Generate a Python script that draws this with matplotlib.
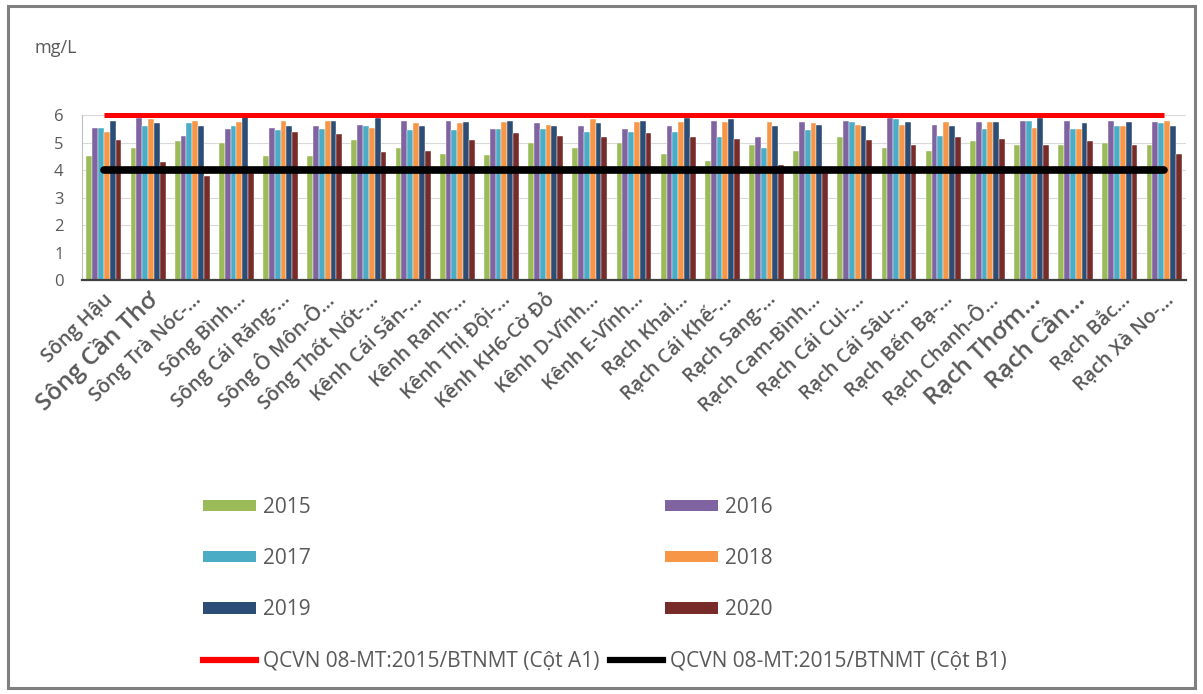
import matplotlib
matplotlib.use("Agg")
import matplotlib.pyplot as plt
import numpy as np
from matplotlib.patches import Patch, Rectangle
from matplotlib.lines import Line2D

plt.rcParams['font.family'] = ['Open Sans', 'DejaVu Sans']

stations = [
    "Sông Hậu", "Sông Cần Thơ", "Sông Trà Nóc-…", "Sông Bình…", "Sông Cái Răng-…",
    "Sông Ô Môn-Ô…", "Sông Thốt Nốt-…", "Kênh Cái Sắn-…", "Kênh Ranh-…", "Kênh Thị Đội-…",
    "Kênh KH6-Cờ Đỏ", "Kênh D-Vĩnh…", "Kênh E-Vĩnh…", "Rạch Khai…", "Rạch Cái Khế-…",
    "Rạch Sang-…", "Rạch Cam-Bình…", "Rạch Cái Cui-…", "Rạch Cái Sâu-…", "Rạch Bến Bạ-…",
    "Rạch Chanh-Ô…", "Rạch Thơm…", "Rạch Cần…", "Rạch Bắc…", "Rạch Xà No-…",
]
# labels shown in a larger font
large_labels = {"Sông Cần Thơ", "Rạch Thơm…", "Rạch Cần…"}

years = ["2015", "2016", "2017", "2018", "2019", "2020"]

do_2015 = [4.5, 4.8, 5.05, 5.0, 4.5, 4.5, 5.1, 4.8, 4.6, 4.55, 5.0, 4.8, 5.0,
           4.6, 4.35, 4.9, 4.7, 5.2, 4.8, 4.7, 5.05, 4.9, 4.9, 5.0, 4.9]
do_2016 = [5.55, 5.9, 5.25, 5.5, 5.55, 5.6, 5.65, 5.8, 5.8, 5.5, 5.7, 5.6, 5.5,
           5.6, 5.8, 5.2, 5.75, 5.8, 5.9, 5.65, 5.75, 5.8, 5.8, 5.8, 5.75]
do_2017 = [5.55, 5.6, 5.7, 5.6, 5.45, 5.5, 5.6, 5.45, 5.45, 5.5, 5.5, 5.4, 5.4,
           5.4, 5.2, 4.8, 5.45, 5.75, 5.85, 5.25, 5.5, 5.8, 5.5, 5.6, 5.7]
do_2018 = [5.4, 5.85, 5.8, 5.75, 5.8, 5.8, 5.55, 5.7, 5.7, 5.75, 5.65, 5.85, 5.75,
           5.75, 5.75, 5.75, 5.7, 5.65, 5.65, 5.75, 5.75, 5.55, 5.5, 5.6, 5.8]
do_2019 = [5.8, 5.7, 5.6, 5.95, 5.6, 5.8, 5.9, 5.6, 5.75, 5.8, 5.6, 5.7, 5.8,
           5.9, 5.85, 5.6, 5.65, 5.6, 5.75, 5.6, 5.75, 5.9, 5.7, 5.75, 5.6]
do_2020 = [5.1, 4.3, 3.8, 3.9, 5.4, 5.3, 4.65, 4.7, 5.1, 5.35, 5.25, 5.2, 5.35,
           5.2, 5.15, 4.2, 3.9, 5.1, 4.9, 5.2, 5.15, 4.9, 5.05, 4.9, 4.6]

limit_a1 = 6.0   # QCVN 08-MT:2015/BTNMT column A1
limit_b1 = 4.0   # QCVN 08-MT:2015/BTNMT column B1

series = [do_2015, do_2016, do_2017, do_2018, do_2019, do_2020]
colors = ["#9BBB59", "#8064A2", "#4BACC6", "#F79646", "#2C4D75", "#772C2A"]
text_color = "#595959"

fig = plt.figure(figsize=(12.03, 6.94), dpi=100)
ax = fig.add_axes([0.068, 0.5965, 0.918, 0.2375])

n = len(stations)
x = np.arange(n)
group = 0.79
bw = group / len(series)
for i, (vals, col) in enumerate(zip(series, colors)):
    ax.bar(x - group / 2 + bw * (i + 0.5), vals, width=bw, color=col,
           edgecolor="white", linewidth=0.3, zorder=2)

ax.plot(x, [limit_a1] * n, color="#FF0000", lw=3.6, zorder=3,
        solid_capstyle="butt", clip_on=False)
ax.plot(x, [limit_b1] * n, color="#000000", lw=5.5, zorder=3,
        solid_capstyle="round", clip_on=False)

ax.set_xlim(-0.5, n - 0.5)
ax.set_ylim(0, 6)
ax.set_yticks(range(0, 7))
ax.yaxis.grid(True, color="#D9D9D9", lw=0.8, zorder=0)
ax.set_axisbelow(True)
for side in ("top", "right"):
    ax.spines[side].set_visible(False)
ax.spines["left"].set_color("#BFBFBF")
ax.spines["bottom"].set_color("#404040")
ax.spines["bottom"].set_linewidth(1.6)
ax.tick_params(axis="y", length=0, pad=13, labelsize=12, labelcolor=text_color)
ax.tick_params(axis="x", length=0, pad=4)

ax.set_xticks(x)
ax.set_xticklabels([])
for xi, name in zip(x, stations):
    size = 17.5 if name in large_labels else 14.2
    ax.annotate(name, xy=(xi + 0.15, 0), xycoords=("data", "axes fraction"),
                xytext=(0, -12), textcoords="offset points",
                rotation=44, rotation_mode="anchor", ha="right", va="center",
                fontsize=size, color=text_color, fontweight="semibold")

fig.text(35 / 1203, 1 - 48 / 694, "mg/L", fontsize=13, color=text_color,
         va="center", ha="left")

# legend for the yearly series, two columns
legend_size = 15
order = [0, 2, 4, 1, 3, 5]
handles = [Patch(facecolor=colors[k], edgecolor="none") for k in order]
labels = [years[k] for k in order]
leg1 = fig.legend(handles, labels, ncol=2, loc="upper left",
                  bbox_to_anchor=(203 / 1203, 1 - 497 / 694),
                  frameon=False, fontsize=legend_size, labelcolor=text_color,
                  handlelength=2.55, handleheight=0.45, handletextpad=0.34,
                  labelspacing=1.45, columnspacing=17.0,
                  borderpad=0, borderaxespad=0)

# legend for the two standard lines
line_handles = [Line2D([], [], color="#FF0000", lw=4.5),
                Line2D([], [], color="#000000", lw=4.5)]
line_labels = ["QCVN 08-MT:2015/BTNMT (Cột A1)", "QCVN 08-MT:2015/BTNMT (Cột B1)"]
leg2 = fig.legend(line_handles, line_labels, ncol=2, loc="upper left",
                  bbox_to_anchor=(203 / 1203, 1 - 651 / 694),
                  frameon=False, fontsize=legend_size, labelcolor=text_color,
                  handlelength=2.55, handletextpad=0.34, columnspacing=0.5,
                  borderpad=0, borderaxespad=0)

# outer chart frame
fig.add_artist(Rectangle((8 / 1203, 6 / 694), 1 - 16 / 1203, 1 - 12 / 694,
                         transform=fig.transFigure, fill=False,
                         edgecolor="#7F7F7F", lw=2.2))

fig.savefig("out.png", dpi=100)
